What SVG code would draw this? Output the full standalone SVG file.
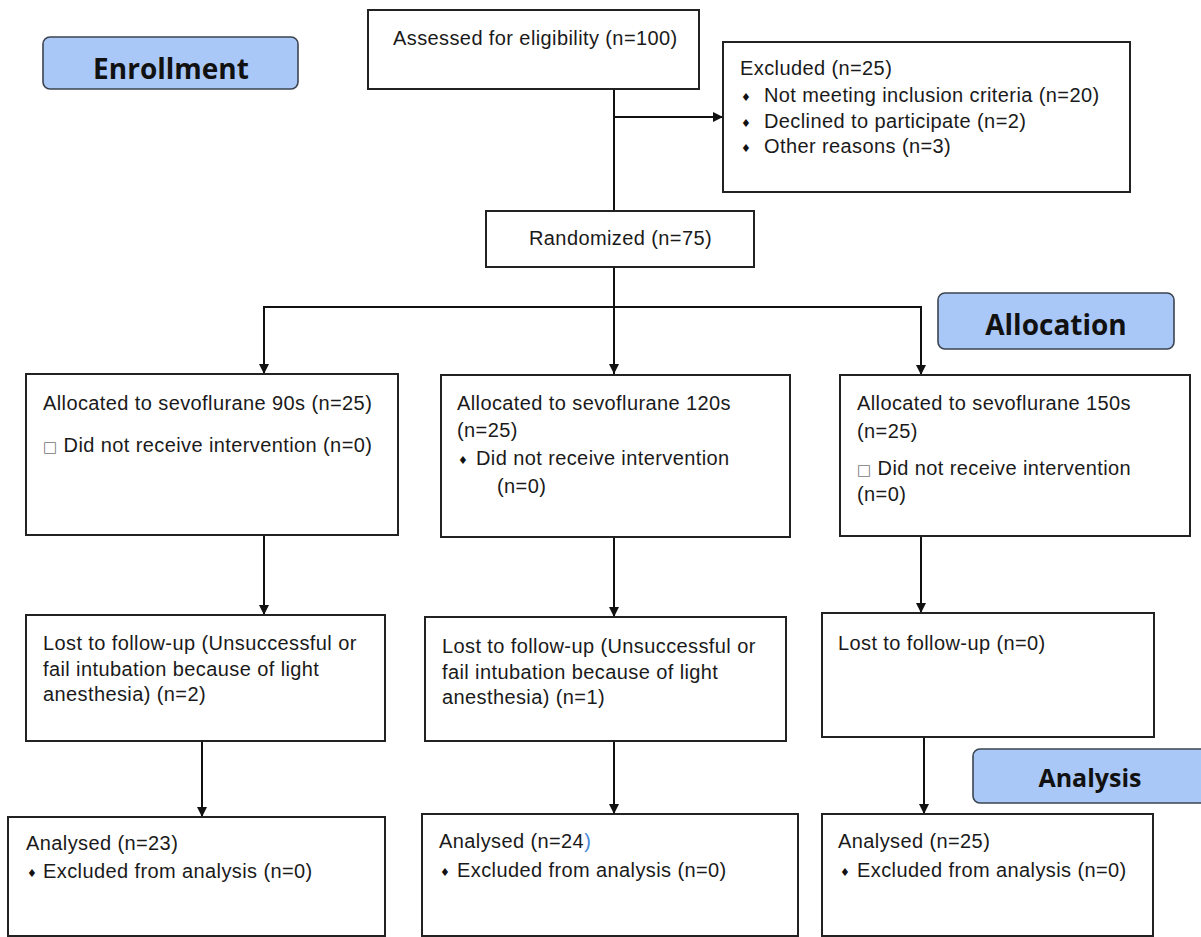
<svg xmlns="http://www.w3.org/2000/svg" width="1201" height="937" viewBox="0 0 1201 937">
<style>
.box{fill:#fff;stroke:#222;stroke-width:2}
.lbl{fill:#a9c8f7;stroke:#3c4450;stroke-width:1.6}
.t{font-family:"Liberation Sans",Arial,sans-serif;font-size:20px;letter-spacing:0.4px;fill:#1a1a1a}
.h{font-family:"Open Sans","DejaVu Sans",sans-serif;font-weight:700;fill:#111;text-anchor:middle}
.b{font-family:"DejaVu Sans",sans-serif;font-size:11px;fill:#111}
.sq{font-family:"DejaVu Sans",sans-serif;font-size:15px;fill:#777}
.c{stroke:#111;stroke-width:2;fill:none}
</style>
<defs>
<marker id="arr" markerUnits="userSpaceOnUse" markerWidth="11" markerHeight="11" refX="10" refY="5" orient="auto">
<path d="M0,0 L10,5 L0,10 z" fill="#111"/>
</marker>
</defs>
<rect width="1201" height="937" fill="#fff"/>

<g id="connectors">
<line class="c" x1="614" y1="89" x2="614" y2="211"/>
<line class="c" x1="614" y1="117" x2="723" y2="117" marker-end="url(#arr)"/>
<line class="c" x1="614" y1="267" x2="614" y2="374" marker-end="url(#arr)"/>
<line class="c" x1="263" y1="307" x2="922" y2="307"/>
<line class="c" x1="264" y1="307" x2="264" y2="374" marker-end="url(#arr)"/>
<line class="c" x1="921" y1="307" x2="921" y2="375" marker-end="url(#arr)"/>
<line class="c" x1="264" y1="535" x2="264" y2="615" marker-end="url(#arr)"/>
<line class="c" x1="614" y1="537" x2="614" y2="617" marker-end="url(#arr)"/>
<line class="c" x1="921" y1="536" x2="921" y2="613" marker-end="url(#arr)"/>
<line class="c" x1="202" y1="741" x2="202" y2="817" marker-end="url(#arr)"/>
<line class="c" x1="614" y1="741" x2="614" y2="814" marker-end="url(#arr)"/>
<line class="c" x1="924" y1="737" x2="924" y2="814" marker-end="url(#arr)"/>
</g>

<g id="enrollment">
<rect class="lbl" x="43" y="37" width="255" height="52" rx="7"/>
<text class="h" x="171" y="79" font-size="28">Enrollment</text>
</g>

<g id="assessed">
<rect class="box" x="368" y="10" width="331" height="79"/>
<text class="t" x="393" y="45">Assessed for eligibility (n=100)</text>
</g>

<g id="excluded">
<rect class="box" x="723" y="42" width="407" height="150"/>
<text class="t" x="740" y="75">Excluded (n=25)</text>
<text class="b" x="741" y="101">♦</text>
<text class="t" x="764" y="102">Not meeting inclusion criteria (n=20)</text>
<text class="b" x="741" y="127">♦</text>
<text class="t" x="764" y="128">Declined to participate (n=2)</text>
<text class="b" x="741" y="152">♦</text>
<text class="t" x="764" y="153">Other reasons (n=3)</text>
</g>

<g id="randomized">
<rect class="box" x="486" y="211" width="268" height="56"/>
<text class="t" x="529" y="245">Randomized (n=75)</text>
</g>

<g id="allocation">
<rect class="lbl" x="938" y="293" width="236" height="56" rx="7"/>
<text class="h" x="1056" y="335" font-size="28">Allocation</text>
</g>

<g id="alloc90">
<rect class="box" x="26" y="374" width="372" height="161"/>
<text class="t" x="43" y="410">Allocated to sevoflurane 90s (n=25)</text>
<text class="t" x="43" y="452"><tspan class="sq">□</tspan> Did not receive intervention (n=0)</text>
</g>

<g id="alloc120">
<rect class="box" x="441" y="375" width="349" height="162"/>
<text class="t" x="457" y="410">Allocated to sevoflurane 120s</text>
<text class="t" x="457" y="437">(n=25)</text>
<text class="b" x="458" y="464">♦</text>
<text class="t" x="476" y="465">Did not receive intervention</text>
<text class="t" x="497" y="493">(n=0)</text>
</g>

<g id="alloc150">
<rect class="box" x="840" y="375" width="350" height="161"/>
<text class="t" x="857" y="410">Allocated to sevoflurane 150s</text>
<text class="t" x="857" y="438">(n=25)</text>
<text class="t" x="857" y="475"><tspan class="sq">□</tspan> Did not receive intervention</text>
<text class="t" x="857" y="501">(n=0)</text>
</g>

<g id="lost90">
<rect class="box" x="26" y="615" width="359" height="126"/>
<text class="t" x="43" y="650">Lost to follow-up (Unsuccessful or</text>
<text class="t" x="43" y="676">fail intubation because of light</text>
<text class="t" x="43" y="701">anesthesia) (n=2)</text>
</g>

<g id="lost120">
<rect class="box" x="425" y="617" width="361" height="124"/>
<text class="t" x="442" y="653">Lost to follow-up (Unsuccessful or</text>
<text class="t" x="442" y="679">fail intubation because of light</text>
<text class="t" x="442" y="704">anesthesia) (n=1)</text>
</g>

<g id="lost150">
<rect class="box" x="822" y="613" width="332" height="124"/>
<text class="t" x="838" y="650">Lost to follow-up (n=0)</text>
</g>

<g id="analysis">
<rect class="lbl" x="973" y="749" width="245" height="54" rx="7"/>
<text class="h" x="1090" y="787" font-size="25">Analysis</text>
</g>

<g id="analysed90">
<rect class="box" x="8" y="817" width="377" height="119"/>
<text class="t" x="26" y="850">Analysed (n=23)</text>
<text class="b" x="27" y="877">♦</text>
<text class="t" x="43" y="878">Excluded from analysis (n=0)</text>
</g>

<g id="analysed120">
<rect class="box" x="422" y="814" width="376" height="122"/>
<text class="t" x="439" y="848">Analysed (n=24<tspan fill="#4a8ad8">)</tspan></text>
<text class="b" x="440" y="876">♦</text>
<text class="t" x="457" y="877">Excluded from analysis (n=0)</text>
</g>

<g id="analysed150">
<rect class="box" x="822" y="814" width="331" height="122"/>
<text class="t" x="838" y="848">Analysed (n=25)</text>
<text class="b" x="840" y="876">♦</text>
<text class="t" x="857" y="877">Excluded from analysis (n=0)</text>
</g>
</svg>
